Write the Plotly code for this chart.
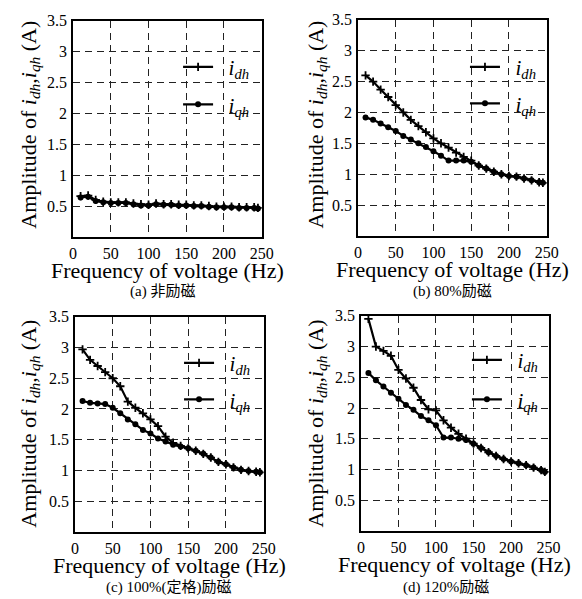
import plotly.graph_objects as go

W, H = 582, 599

freq = [10, 20, 30, 40, 50, 60, 70, 80, 90, 100, 110, 120, 130, 140, 150,
        160, 170, 180, 190, 200, 210, 220, 230, 240, 245]

idh_a = [0.66, 0.67, 0.60, 0.57, 0.56, 0.56, 0.56, 0.54, 0.53, 0.52, 0.54, 0.53, 0.53,
         0.52, 0.52, 0.51, 0.51, 0.50, 0.49, 0.49, 0.49, 0.48, 0.48, 0.48, 0.47]
iqh_a = [0.64, 0.65, 0.58, 0.56, 0.55, 0.55, 0.55, 0.53, 0.51, 0.51, 0.53, 0.52, 0.52,
         0.51, 0.51, 0.50, 0.50, 0.49, 0.48, 0.48, 0.48, 0.47, 0.47, 0.47, 0.46]

idh_b = [2.60, 2.50, 2.37, 2.25, 2.12, 2.00, 1.88, 1.78, 1.68, 1.58, 1.50, 1.43, 1.35,
         1.28, 1.22, 1.14, 1.09, 1.04, 1.00, 0.97, 0.96, 0.93, 0.90, 0.87, 0.86]
iqh_b = [1.92, 1.88, 1.82, 1.76, 1.70, 1.62, 1.56, 1.50, 1.44, 1.37, 1.30, 1.22, 1.22,
         1.22, 1.20, 1.14, 1.09, 1.04, 1.00, 0.97, 0.96, 0.93, 0.90, 0.87, 0.86]

idh_c = [2.97, 2.80, 2.70, 2.60, 2.50, 2.37, 2.12, 2.02, 1.93, 1.83, 1.72, 1.55, 1.45,
         1.40, 1.36, 1.32, 1.27, 1.21, 1.14, 1.10, 1.05, 1.01, 0.99, 0.98, 0.97]
iqh_c = [2.13, 2.10, 2.09, 2.08, 2.02, 1.93, 1.83, 1.75, 1.66, 1.60, 1.52, 1.47, 1.42,
         1.39, 1.36, 1.32, 1.27, 1.21, 1.14, 1.10, 1.05, 1.01, 0.99, 0.98, 0.97]

idh_d = [3.45, 3.00, 2.93, 2.85, 2.62, 2.48, 2.33, 2.13, 1.98, 1.96, 1.80, 1.68, 1.58,
         1.50, 1.42, 1.35, 1.28, 1.22, 1.17, 1.13, 1.10, 1.07, 1.03, 0.99, 0.96]
iqh_d = [2.57, 2.45, 2.35, 2.25, 2.15, 2.05, 1.97, 1.87, 1.80, 1.72, 1.52, 1.52, 1.50,
         1.48, 1.42, 1.35, 1.28, 1.22, 1.17, 1.13, 1.10, 1.07, 1.03, 0.99, 0.96]

x_ticks = [0, 50, 100, 150, 200, 250]
y_ticks = [0.5, 1, 1.5, 2, 2.5, 3, 3.5]
y_tick_text = ["0.5", "1", "1.5", "2", "2.5", "3", "3.5"]

captions = ["(a) 非励磁", "(b) 80%励磁", "(c) 100%(定格)励磁", "(d) 120%励磁"]
x_title = "Frequency of voltage (Hz)"
y_title = "Amplitude of <i>i</i><sub><i>dh</i></sub>,<i>i</i><sub><i>qh</i></sub> (A)"
name_dh = "\u00a0\u00a0<i>i</i><sub><i>dh</i></sub>"
name_qh = "\u00a0\u00a0<i>i</i><sub><i>qh</i></sub>"

series = [(idh_a, iqh_a), (idh_b, iqh_b), (idh_c, iqh_c), (idh_d, iqh_d)]

# plot-area pixel boxes (left, right, top, bottom)
boxes = [(71, 265, 13, 232), (364, 558, 12, 231), (73, 267, 313, 531), (367, 560, 312, 530)]
# legend marker pixel positions (x, y_dh, y_qh)
leg_pos = [(199, 60, 98), (494, 60, 97), (200, 360, 397), (496, 357, 397)]
# caption centers
cap_pos = [(163, 287), (461, 287), (169, 587), (454, 587)]
ytitle_pos = [(27, 118), (322, 118), (27, 421), (322, 421)]

SERIF = "Liberation Serif"
CAPFONT = "Liberation Serif, Noto Sans CJK JP"

fig = go.Figure()
ann = []
layout = dict(width=W, height=H, margin=dict(l=0, r=0, t=0, b=0),
              paper_bgcolor="white", plot_bgcolor="white", showlegend=True)

for k, ((dh, qh), (l, r, t, b)) in enumerate(zip(series, boxes)):
    n = k + 1
    xa = "x" if n == 1 else f"x{n}"
    ya = "y" if n == 1 else f"y{n}"
    lg1 = f"legend{2 * k + 1}" if k > 0 else "legend"
    lg2 = f"legend{2 * k + 2}"
    fig.add_trace(go.Scatter(x=freq, y=dh, mode="lines+markers", name=name_dh,
                             xaxis=xa, yaxis=ya, legend=lg1,
                             line=dict(color="black", width=2.2),
                             marker=dict(symbol="cross-thin", size=6,
                                         line=dict(color="black", width=1.8))))
    fig.add_trace(go.Scatter(x=freq, y=qh, mode="lines+markers", name=name_qh,
                             xaxis=xa, yaxis=ya, legend=lg2,
                             line=dict(color="black", width=2.2),
                             marker=dict(symbol="circle", size=6, color="black")))
    axis_common = dict(showline=True, mirror=True, linecolor="black", linewidth=1.5,
                       showgrid=True, gridcolor="#222", gridwidth=1, griddash="7px,5px",
                       zeroline=False, ticks="", ticklabelstandoff=1,
                       tickfont=dict(family=SERIF, size=16, color="black"))
    layout[f"xaxis{n if n > 1 else ''}"] = dict(
        domain=[l / W, r / W], range=[0, 250], tickvals=x_ticks, anchor=ya, **axis_common)
    layout[f"yaxis{n if n > 1 else ''}"] = dict(
        domain=[1 - b / H, 1 - t / H], range=[0, 3.5], tickvals=y_ticks,
        ticktext=y_tick_text, anchor=xa, **axis_common)
    lx, ly1, ly2 = leg_pos[k]
    for key, yy in ((lg1, ly1), (lg2, ly2)):
        layout[key] = dict(x=(lx - 20) / W, y=1 - yy / H, xanchor="left", yanchor="middle",
                           bgcolor="rgba(0,0,0,0)", borderwidth=0,
                           font=dict(family=SERIF, size=21, color="black"))
    ann.append(dict(text=x_title, x=(l + r) / 2 / W, y=1 - (b + 34) / H, xref="paper",
                    yref="paper", showarrow=False, xanchor="center", yanchor="middle",
                    font=dict(family=SERIF, size=22, color="black")))
    yx, yy = ytitle_pos[k]
    ann.append(dict(text=y_title, x=yx / W, y=1 - yy / H, xref="paper", yref="paper",
                    showarrow=False, textangle=-90, xanchor="center", yanchor="middle",
                    font=dict(family=SERIF, size=22, color="black")))
    cx, cy = cap_pos[k]
    ann.append(dict(text=captions[k], x=cx / W, y=1 - cy / H, xref="paper", yref="paper",
                    showarrow=False, xanchor="center", yanchor="middle",
                    font=dict(family=CAPFONT, size=15, color="black")))

layout["annotations"] = ann
fig.update_layout(**layout)
fig.write_html("out.html", config={"displayModeBar": False},
               post_script="document.body.style.margin='0';document.body.style.overflow='hidden';")
